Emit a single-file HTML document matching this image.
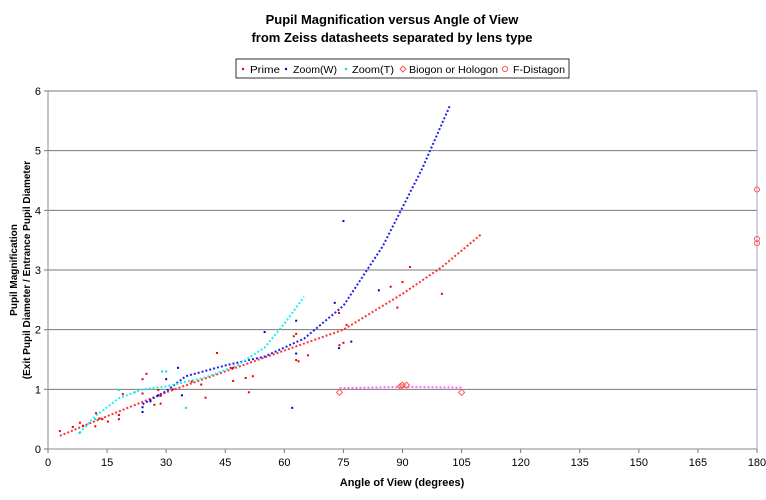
<!DOCTYPE html>
<html><head><meta charset="utf-8"><style>
body{margin:0;background:#fff;font-family:"Liberation Sans",Arial,sans-serif}
svg text{font-family:"Liberation Sans",Arial,sans-serif}
</style></head><body>
<svg id="chart" width="766" height="495" viewBox="0 0 766 495" xmlns="http://www.w3.org/2000/svg">
<text x="392" y="24" text-anchor="middle" font-size="13" font-weight="bold">Pupil Magnification versus Angle of View</text>
<text x="392" y="42" text-anchor="middle" font-size="13" font-weight="bold">from Zeiss datasheets separated by lens type</text>
<g>
<rect x="236" y="59" width="333" height="19" fill="#fff" stroke="#000" stroke-width="0.8"/>
<circle cx="243" cy="69" r="1.2" fill="#e00"/><text x="250" y="73" font-size="10.5" textLength="30" lengthAdjust="spacingAndGlyphs">Prime</text>
<circle cx="286" cy="69" r="1.2" fill="#00c"/><text x="293" y="73" font-size="10.5" textLength="44" lengthAdjust="spacingAndGlyphs">Zoom(W)</text>
<circle cx="346" cy="69" r="1.2" fill="#0dd"/><text x="352" y="73" font-size="10.5" textLength="42" lengthAdjust="spacingAndGlyphs">Zoom(T)</text>
<path d="M403 66 L406 69 L403 72 L400 69 Z" fill="none" stroke="#f55"/><text x="409" y="73" font-size="10.5" textLength="89" lengthAdjust="spacingAndGlyphs">Biogon or Hologon</text>
<circle cx="505" cy="69" r="2.6" fill="none" stroke="#f55"/><text x="513" y="73" font-size="10.5" textLength="52" lengthAdjust="spacingAndGlyphs">F-Distagon</text>
</g>
<g id="grid"></g><g id="axes"></g><g id="marks"></g>
<text x="402" y="486" text-anchor="middle" font-size="11" font-weight="bold">Angle of View (degrees)</text>
<text transform="translate(17,270) rotate(-90)" text-anchor="middle" font-size="10" font-weight="bold">Pupil Magnification</text>
<text transform="translate(30,270) rotate(-90)" text-anchor="middle" font-size="10" font-weight="bold">(Exit Pupil Diameter / Entrance Pupil Diameter</text>
</svg>
<script>
const xTicks=[0,15,30,45,60,75,90,105,120,135,150,165,180];
const yTicks=[0,1,2,3,4,5,6];
const primeX=[3,6.3,8.1,8.9,12.2,12,13,13.8,15.2,18,18,19,24,25,24,27,28,28.6,28.6,31.7,36.5,38.9,40,42.9,47,47,46.4,50.2,51,52,63,63,62.4,63.6,66,73.9,74,75.8,75,87,90,91.9,88.7,100];
const primeY=[0.3,0.37,0.44,0.39,0.6,0.38,0.51,0.5,0.46,0.57,0.5,0.92,1.17,1.26,0.93,0.74,0.99,0.89,0.76,1.0,1.13,1.08,0.86,1.61,1.36,1.14,1.36,1.19,0.95,1.22,1.93,1.49,1.89,1.47,1.57,2.28,1.74,2.08,1.78,2.72,2.8,3.05,2.37,2.6];
const zoomWX=[24,24,26,28,30,33,34,55,62,63,63,72.8,73.9,77,84,75];
const zoomWY=[0.62,0.7,0.8,0.9,1.17,1.36,0.9,1.96,0.69,2.15,1.6,2.45,1.69,1.8,2.66,3.82];
const zoomTX=[8,18,29,30,35,12,22];
const zoomTY=[0.27,0.99,1.3,1.3,0.69,0.5,0.95];
const biogonX=[74,89.5,90,91,105];
const biogonY=[0.95,1.05,1.07,1.07,0.95];
const distagonX=[180,180,180];
const distagonY=[4.35,3.52,3.45];
const primeTrendX=[3,15,30,45,60,75,90,100,110];
const primeTrendY=[0.22,0.55,0.95,1.3,1.65,2.0,2.6,3.05,3.6];
const zoomWTrendX=[24,30,35,45,55,65,75,85,95,102];
const zoomWTrendY=[0.75,0.97,1.22,1.4,1.55,1.85,2.4,3.4,4.7,5.75];
const zoomTTrendX=[8,12,18,24,30,40,48,55,60,65];
const zoomTTrendY=[0.27,0.55,0.85,1.0,1.05,1.2,1.4,1.7,2.1,2.55];
const distTrendX=[74,90,105];
const distTrendY=[1.02,1.04,1.03];

const X0=48,X1=757,Y0=449,Y1=91;
const sx=v=>X0+(v/180)*(X1-X0);
const sy=v=>Y0-(v/6)*(Y0-Y1);
const NS="http://www.w3.org/2000/svg";
function mk(tag,attrs,parent){const e=document.createElementNS(NS,tag);for(const k in attrs)e.setAttribute(k,attrs[k]);parent.appendChild(e);return e;}
const grid=document.getElementById('grid'),axes=document.getElementById('axes'),marks=document.getElementById('marks');
yTicks.forEach(t=>{
 if(t>0){const l=mk('line',{x1:X0,x2:X1,y1:sy(t),y2:sy(t),stroke:'#7a7a7a','stroke-width':1},grid);
 
 }
 const tk=mk('line',{x1:X0-4,x2:X0,y1:sy(t),y2:sy(t),stroke:'#777'},axes);
 
 
 const tx=mk('text',{x:X0-7,y:sy(t)+4,'text-anchor':'end','font-size':11},axes);tx.textContent=t;
 
 
});
xTicks.forEach(t=>{
 const tk=mk('line',{x1:sx(t),x2:sx(t),y1:Y0,y2:Y0+4,stroke:'#777'},axes);
 
 
 const tx=mk('text',{x:sx(t),y:Y0+17,'text-anchor':'middle','font-size':11},axes);tx.textContent=t;
 
 
});
const ax=mk('path',{d:`M${X0} ${Y1} L${X0} ${Y0} L${X1} ${Y0}`,fill:'none',stroke:'#888','stroke-width':1},axes);


const rb=mk('line',{x1:X1,x2:X1,y1:Y1,y2:Y0,stroke:'#a8a0d8','stroke-width':1},axes);


function trend(xs,ys,color,name){
 const d=xs.map((x,i)=>(i?'L':'M')+sx(x)+' '+sy(ys[i])).join(' ');
 const p=mk('path',{d:d,fill:'none',stroke:color,'stroke-width':2,'stroke-dasharray':'2,2'},marks);
 
 
}
trend(primeTrendX,primeTrendY,'#f33','prime-trendline');
trend(zoomWTrendX,zoomWTrendY,'#22e','zoom-w-trendline');
trend(zoomTTrendX,zoomTTrendY,'#2ee','zoom-t-trendline');
trend(distTrendX,distTrendY,'#f6f','biogon-trendline');
function dots(xs,ys,color,name){
 xs.forEach((x,i)=>{const c=mk('rect',{x:sx(x)-1,y:sy(ys[i])-1,width:2,height:2,fill:color},marks);
 
 });
}
dots(primeX,primeY,'#e00','prime-point');
dots(zoomWX,zoomWY,'#00c','zoom-w-point');
dots(zoomTX,zoomTY,'#0dd','zoom-t-point');
biogonX.forEach((x,i)=>{const cx=sx(x),cy=sy(biogonY[i]);
 const p=mk('path',{d:`M${cx} ${cy-3} L${cx+3} ${cy} L${cx} ${cy+3} L${cx-3} ${cy} Z`,fill:'none',stroke:'#f55'},marks);
 
 });
distagonX.forEach((x,i)=>{const c=mk('circle',{cx:sx(x),cy:sy(distagonY[i]),r:2.5,fill:'none',stroke:'#f55'},marks);
 
 });
</script>
</body></html>
